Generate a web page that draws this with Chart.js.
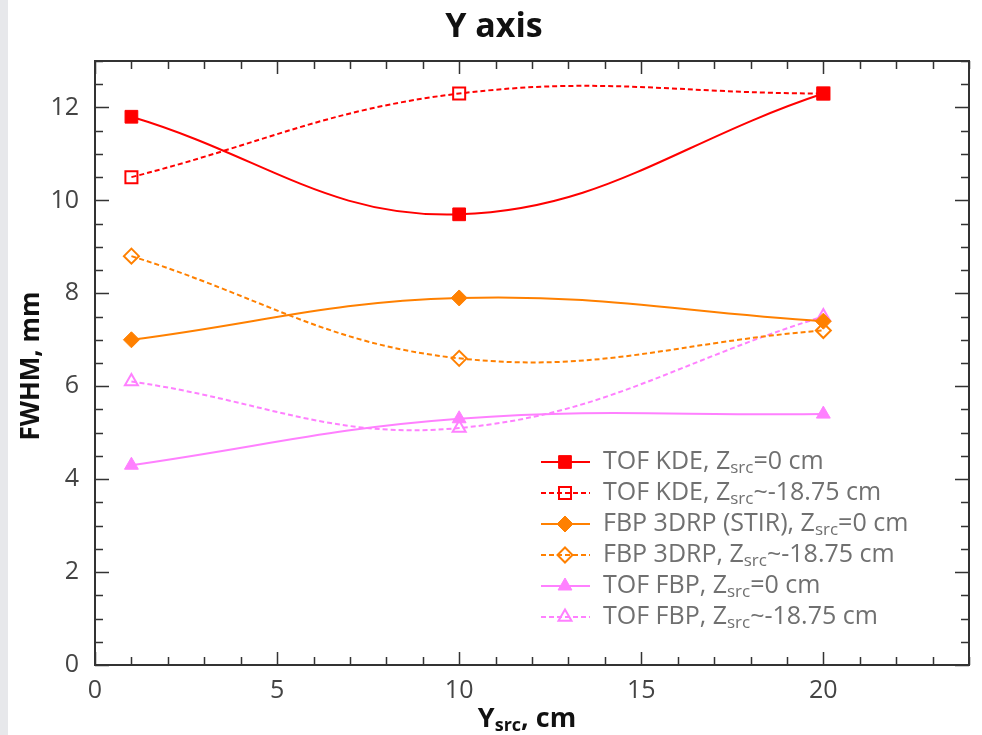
<!DOCTYPE html>
<html lang="en">
<head>
<meta charset="UTF-8">
<title>Y axis</title>
<style>
  html, body { margin: 0; padding: 0; background: #fff; }
  body { width: 982px; height: 735px; overflow: hidden; position: relative; }
  .strip { position: absolute; left: 0; top: 0; width: 8px; height: 735px; background: #e7e8eb; }
  #wrap { position: absolute; left: 0; top: 0; width: 982px; height: 735px; }
</style>
<script src="https://cdn.jsdelivr.net/npm/chart.js"></script>
</head>
<body>
<div class="strip"></div>
<div id="wrap"><canvas id="chart"></canvas></div>
<script>
// Source positions (cm)
const ySrc = [1, 10, 20];

// FWHM values (mm) per reconstruction
const tofKdeZ0 = [11.8, 9.7, 12.3];
const tofKdeZ18 = [10.5, 12.3, 12.3];
const fbpStirZ0 = [7.0, 7.9, 7.4];
const fbpZ18 = [8.8, 6.6, 7.2];
const tofFbpZ0 = [4.3, 5.3, 5.4];
const tofFbpZ18 = [6.1, 5.1, 7.5];

// Legend labels ("_src" becomes a subscript)
const labels = [
    'TOF KDE, Z_src=0 cm',
    'TOF KDE, Z_src~-18.75 cm',
    'FBP 3DRP (STIR), Z_src=0 cm',
    'FBP 3DRP, Z_src~-18.75 cm',
    'TOF FBP, Z_src=0 cm',
    'TOF FBP, Z_src~-18.75 cm'
];

const xTicks = [0, 5, 10, 15, 20];
const yTicks = [0, 2, 4, 6, 8, 10, 12];

const FONT = "'Open Sans', 'Noto Sans', sans-serif";
const RED = '#ff0000', ORANGE = '#ff8000', PINK = '#ff80ff';

function pts(vals) {
    return vals.map((v, i) => ({ x: ySrc[i], y: v }));
}

function series(label, vals, color, dashed, style, open, radius) {
    return {
        label: label,
        data: pts(vals),
        borderColor: color,
        borderWidth: 2,
        borderDash: dashed ? [5, 3] : [],
        tension: 0.4,
        pointStyle: style,
        pointRadius: radius,
        pointBorderWidth: open ? 2 : 1,
        pointBorderColor: color,
        pointBackgroundColor: open ? 'rgba(0,0,0,0)' : color
    };
}

// draws text with a "_src" part as subscript
function richText(ctx, text, x, y, size, bold, color) {
    const parts = text.split('_src');
    const w = bold ? 'bold ' : '';
    ctx.fillStyle = color;
    ctx.textBaseline = 'middle';
    ctx.textAlign = 'left';
    let cx = x;
    parts.forEach((p, i) => {
        if (i > 0) {
            ctx.font = w + Math.round(size * 0.68) + 'px ' + FONT;
            ctx.fillText('src', cx, y + size * 0.26);
            cx += ctx.measureText('src').width;
        }
        ctx.font = w + size + 'px ' + FONT;
        ctx.fillText(p, cx, y);
        cx += ctx.measureText(p).width;
    });
    return cx - x;
}

function richWidth(ctx, text, size, bold) {
    const parts = text.split('_src');
    const w = bold ? 'bold ' : '';
    let total = 0;
    parts.forEach((p, i) => {
        if (i > 0) {
            ctx.font = w + Math.round(size * 0.68) + 'px ' + FONT;
            total += ctx.measureText('src').width;
        }
        ctx.font = w + size + 'px ' + FONT;
        total += ctx.measureText(p).width;
    });
    return total;
}

// frame with inward major/minor ticks on all four sides
const framePlugin = {
    id: 'frame',
    beforeDatasetsDraw(chart) {
        const ctx = chart.ctx;
        const a = chart.chartArea;
        const xs = chart.scales.x, ys = chart.scales.y;
        ctx.save();
        ctx.strokeStyle = '#333';
        ctx.lineWidth = 1.5;
        ctx.beginPath();
        for (let v = 0; v <= 24; v++) {
            const px = Math.round(xs.getPixelForValue(v)) + 0.5;
            const len = v % 5 === 0 ? 13 : 8;
            ctx.moveTo(px, a.bottom); ctx.lineTo(px, a.bottom - len);
            ctx.moveTo(px, a.top); ctx.lineTo(px, a.top + len);
        }
        for (let v = 0; v <= 13; v += 0.5) {
            const py = Math.round(ys.getPixelForValue(v)) + 0.5;
            const len = v % 2 === 0 ? 14 : 8;
            ctx.moveTo(a.left, py); ctx.lineTo(a.left + len, py);
            ctx.moveTo(a.right, py); ctx.lineTo(a.right - len, py);
        }
        ctx.stroke();
        ctx.lineWidth = 2;
        ctx.strokeRect(a.left, a.top, a.right - a.left, a.bottom - a.top);
        ctx.restore();
    },
    afterDraw(chart) {
        const ctx = chart.ctx;
        ctx.save();

        // title
        ctx.font = 'bold 34px ' + FONT;
        ctx.fillStyle = '#111';
        ctx.textAlign = 'center';
        ctx.textBaseline = 'middle';
        ctx.fillText('Y axis', 494, 27);

        // x axis title
        const xt = 'Y_src, cm';
        const xw = richWidth(ctx, xt, 27, true);
        richText(ctx, xt, 527 - xw / 2, 719, 27, true, '#111');

        // y axis title
        ctx.translate(32, 366);
        ctx.rotate(-Math.PI / 2);
        ctx.font = 'bold 26px ' + FONT;
        ctx.textAlign = 'center';
        ctx.textBaseline = 'middle';
        ctx.fillStyle = '#111';
        ctx.fillText('FWHM, mm', 0, 0);
        ctx.setTransform(1, 0, 0, 1, 0, 0);

        // legend
        chart.data.datasets.forEach((ds, i) => {
            const y = 462 + i * 31;
            ctx.strokeStyle = ds.borderColor;
            ctx.lineWidth = 2;
            ctx.setLineDash(ds.borderDash);
            ctx.beginPath();
            ctx.moveTo(541, y); ctx.lineTo(590, y);
            ctx.stroke();
            ctx.setLineDash([]);
            ctx.fillStyle = ds.pointBackgroundColor;
            ctx.strokeStyle = ds.pointBorderColor;
            ctx.lineWidth = ds.pointBorderWidth;
            Chart.helpers.drawPoint(ctx, {
                pointStyle: ds.pointStyle,
                radius: ds.pointRadius,
                rotation: 0,
                borderWidth: ds.pointBorderWidth
            }, 565, y);
            richText(ctx, ds.label, 603, y, 25, false, '#707070');
        });
        ctx.restore();
    }
};

new Chart(document.getElementById('chart'), {
    type: 'line',
    data: {
        datasets: [
            series(labels[0], tofKdeZ0, RED, false, 'rect', false, 9),
            series(labels[1], tofKdeZ18, RED, true, 'rect', true, 8.5),
            series(labels[2], fbpStirZ0, ORANGE, false, 'rectRot', false, 8),
            series(labels[3], fbpZ18, ORANGE, true, 'rectRot', true, 7.5),
            series(labels[4], tofFbpZ0, PINK, false, 'triangle', false, 8),
            series(labels[5], tofFbpZ18, PINK, true, 'triangle', true, 7.5)
        ]
    },
    options: {
        responsive: true,
        maintainAspectRatio: false,
        animation: false,
        layout: { padding: { left: 0, right: 13, top: 61, bottom: 0 } },
        plugins: {
            legend: { display: false },
            title: { display: false },
            tooltip: { enabled: false }
        },
        scales: {
            x: {
                type: 'linear',
                min: 0,
                max: 24,
                afterFit(scale) { scale.height = 70; },
                afterBuildTicks(scale) { scale.ticks = xTicks.map(v => ({ value: v })); },
                grid: { display: false, drawTicks: false },
                border: { display: false },
                ticks: { padding: 11, color: '#444', font: { family: FONT, size: 25 } }
            },
            y: {
                type: 'linear',
                min: 0,
                max: 13,
                afterFit(scale) { scale.width = 95; },
                afterBuildTicks(scale) { scale.ticks = yTicks.map(v => ({ value: v })); },
                grid: { display: false, drawTicks: false },
                border: { display: false },
                ticks: { padding: 16, color: '#444', font: { family: FONT, size: 25 } }
            }
        }
    },
    plugins: [framePlugin]
});
</script>
</body>
</html>
